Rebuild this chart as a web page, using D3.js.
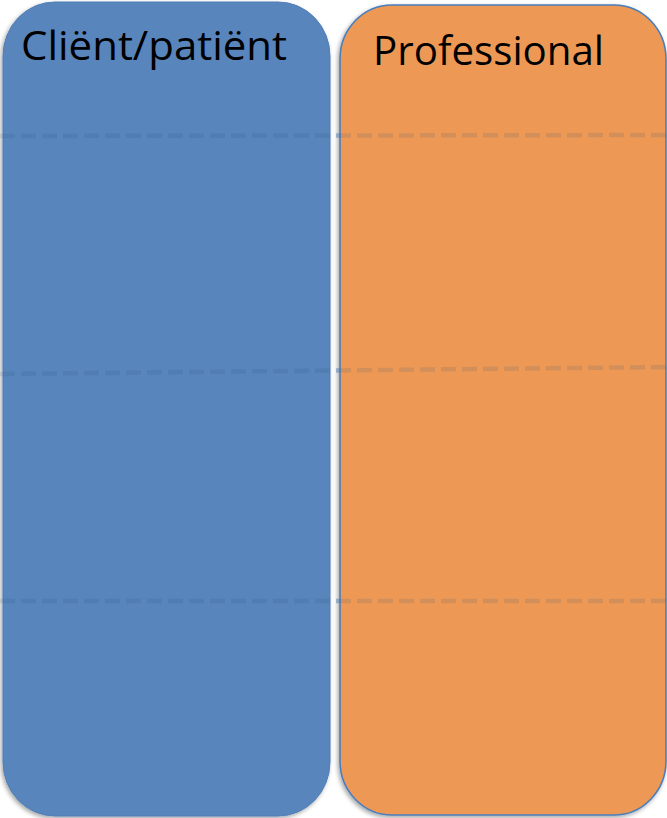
<!DOCTYPE html>
<html><head><meta charset="utf-8">
<script src="https://cdn.jsdelivr.net/npm/d3@7"></script>
<style>html,body{margin:0;padding:0;background:#fff;}svg{display:block;}</style>
</head><body>
<script>
const categories = ["Cliënt/patiënt", "Professional"];
const laneColors = ["#5985bb", "#ed9954"];
// divider levels (vertical position on a 0..818 scale), read at the left and right edge
const dividerLeft = [136, 374, 601];
const dividerRight = [135, 367, 601];

const W = 667, H = 818;
const svg = d3.select("body").append("svg").attr("width", W).attr("height", H);
const defs = svg.append("defs");
const f = defs.append("filter").attr("id","sh").attr("x","-10%").attr("y","-10%").attr("width","120%").attr("height","120%");
f.append("feDropShadow").attr("dx",-1.5).attr("dy",2).attr("stdDeviation",2).attr("flood-color","#000").attr("flood-opacity",0.35);
defs.append("clipPath").attr("id","gap").append("rect").attr("x",330.5).attr("y",0).attr("width",9).attr("height",H);

const y = d3.scaleLinear().domain([0, 818]).range([0, H]);

const boxes = [
  {cat: categories[0], top: 2, bottom: 816, x0: 3, x1: 330, stroke: "#4f7fb8", sw: 1},
  {cat: categories[1], top: 5, bottom: 815, x0: 340, x1: 666, stroke: "#4a7ebb", sw: 1.6}
];
svg.selectAll("rect.lane").data(boxes).join("rect")
  .attr("class","lane")
  .attr("x", d => d.x0).attr("y", d => y(d.top))
  .attr("width", d => d.x1 - d.x0).attr("height", d => y(d.bottom) - y(d.top))
  .attr("rx", 52).attr("ry", 54)
  .attr("fill", (d,i) => laneColors[i])
  .attr("stroke", d => d.stroke).attr("stroke-width", d => d.sw)
  .attr("filter","url(#sh)");

function drawDividers(cls, color, op, clip) {
  const g = svg.append("g");
  if (clip) g.attr("clip-path", "url(#gap)");
  g.selectAll("line." + cls).data(dividerLeft).join("line")
    .attr("class", cls)
    .attr("x1", 0).attr("x2", W)
    .attr("y1", d => y(d)).attr("y2", (d,i) => y(dividerRight[i]))
    .attr("stroke", color).attr("stroke-opacity", op)
    .attr("stroke-width", 4.5).attr("stroke-dasharray", "15,6");
}
drawDividers("div", "#2a4a78", 0.13, false);
drawDividers("divgap", "#4f81bd", 0.4, true);

const labels = [
  {t: categories[0], x: 21, y: 60, w: 266},
  {t: categories[1], x: 373, y: 65, w: 231}
];
svg.selectAll("text.lab").data(labels).join("text")
  .attr("class","lab")
  .attr("x", d => d.x).attr("y", d => d.y)
  .attr("font-family", "'Open Sans', sans-serif").attr("font-size", 40)
  .attr("fill", "#000")
  .attr("textLength", d => d.w).attr("lengthAdjust", "spacingAndGlyphs")
  .text(d => d.t);
</script>
</body></html>
